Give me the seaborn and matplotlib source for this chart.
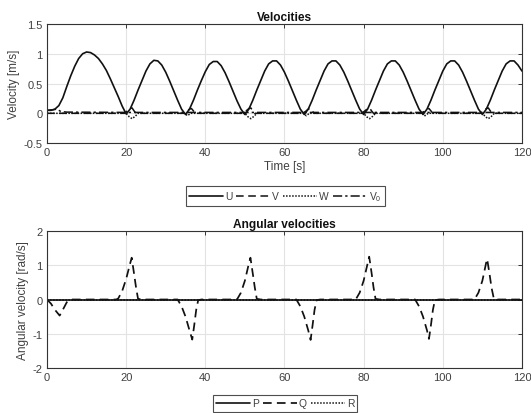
import matplotlib
matplotlib.use("Agg")
import matplotlib.pyplot as plt
import seaborn as sns
import pandas as pd

# ---------------- data ----------------
u_t = list(range(0, 121))
u_vals = [0.05, 0.05, 0.07, 0.13, 0.26, 0.45, 0.63, 0.79, 0.92, 1.00,
          1.03, 1.02, 0.98, 0.92, 0.83, 0.72, 0.58, 0.43, 0.28, 0.12,
          -0.01, 0.07, 0.22, 0.39, 0.55, 0.71, 0.83, 0.89, 0.88, 0.81,
          0.69, 0.54, 0.38, 0.22, 0.07, -0.02, 0.07, 0.22, 0.39, 0.55,
          0.70, 0.82, 0.87, 0.87, 0.80, 0.68, 0.53, 0.37, 0.21, 0.07,
          -0.02, 0.07, 0.22, 0.39, 0.55, 0.71, 0.83, 0.88, 0.88, 0.81,
          0.69, 0.54, 0.38, 0.22, 0.07, -0.02, 0.07, 0.22, 0.39, 0.55,
          0.71, 0.83, 0.88, 0.88, 0.81, 0.69, 0.54, 0.38, 0.22, 0.07,
          -0.02, 0.07, 0.22, 0.39, 0.55, 0.71, 0.83, 0.88, 0.88, 0.81,
          0.69, 0.54, 0.38, 0.22, 0.07, -0.02, 0.07, 0.22, 0.39, 0.55,
          0.71, 0.83, 0.88, 0.88, 0.81, 0.69, 0.54, 0.38, 0.22, 0.07,
          -0.02, 0.07, 0.22, 0.39, 0.55, 0.71, 0.83, 0.88, 0.88, 0.81,
          0.71]

v_t = [0, 19.5, 20.3, 21.0, 21.5, 22.0, 22.5,
       34.5, 35.3, 36.0, 36.5, 37.0, 37.5,
       49.5, 50.3, 51.0, 51.5, 52.0, 52.5,
       64.5, 65.3, 66.0, 66.5, 67.0, 67.5,
       79.5, 80.3, 81.0, 81.5, 82.0, 82.5,
       94.5, 95.3, 96.0, 96.5, 97.0, 97.5,
       109.5, 110.3, 111.0, 111.5, 112.0, 112.5, 120]
v_vals = [0.0, 0.0, 0.04, 0.08, 0.09, 0.04, 0.0,
          0.0, 0.03, 0.07, 0.08, 0.04, 0.0,
          0.0, 0.04, 0.08, 0.09, 0.04, 0.0,
          0.0, 0.03, 0.07, 0.08, 0.04, 0.0,
          0.0, 0.04, 0.08, 0.09, 0.04, 0.0,
          0.0, 0.03, 0.07, 0.08, 0.04, 0.0,
          0.0, 0.04, 0.08, 0.09, 0.04, 0.0, 0.0]

w_t = [0, 20, 20.8, 21.5, 22.3, 23,
       34.8, 35.5, 36.3,
       50, 50.8, 51.5, 52.3, 53,
       64.8, 65.5, 66.3,
       80, 80.8, 81.5, 82.3, 83,
       94.8, 95.5, 96.3,
       110, 110.8, 111.5, 112.3, 113, 120]
w_vals = [0.0, 0.0, -0.06, -0.09, -0.05, 0.0,
          0.0, -0.04, 0.0,
          0.0, -0.06, -0.09, -0.05, 0.0,
          0.0, -0.04, 0.0,
          0.0, -0.06, -0.09, -0.05, 0.0,
          0.0, -0.04, 0.0,
          0.0, -0.06, -0.09, -0.05, 0.0, 0.0]

v0_t = [0, 1.5, 2.5, 3.5, 5, 20, 40, 60, 80, 100, 120]
v0_vals = [0.05, 0.06, 0.07, 0.03, 0.02, 0.015, 0.015, 0.015, 0.015, 0.015, 0.015]

p_t = [0, 120]
p_vals = [0.0, 0.0]

q_t = [0, 1, 2, 3.2, 4, 5, 6,
       17.5, 18, 19, 20, 21, 21.4, 22, 22.5, 23, 24,
       33, 34, 35, 36, 36.7, 37.2, 37.7, 38.2, 39,
       48, 49, 50, 51, 51.4, 52, 52.5, 53, 54,
       63, 64, 65, 66, 66.6, 67.1, 67.6, 68.1, 69,
       78, 79, 80, 81, 81.4, 82, 82.5, 83, 84,
       93, 94, 95, 96, 96.5, 97, 97.5, 98, 99,
       108, 109, 110, 111, 111.2, 111.8, 112.3, 112.9, 114, 120]
q_vals = [0.0, -0.12, -0.3, -0.47, -0.3, -0.08, 0.0,
          0.0, 0.03, 0.25, 0.6, 1.05, 1.22, 0.75, 0.35, 0.02, 0.0,
          0.0, -0.2, -0.5, -0.9, -1.17, -0.75, -0.3, -0.02, 0.0,
          0.0, 0.2, 0.55, 1.05, 1.22, 0.75, 0.35, 0.02, 0.0,
          0.0, -0.2, -0.5, -0.9, -1.18, -0.75, -0.3, -0.02, 0.0,
          0.0, 0.2, 0.55, 1.05, 1.25, 0.78, 0.35, 0.02, 0.0,
          0.0, -0.2, -0.5, -0.9, -1.15, -0.75, -0.3, -0.02, 0.0,
          0.0, 0.2, 0.55, 1.1, 1.18, 0.75, 0.35, 0.02, 0.0, 0.0]

r_t = [0, 120]
r_vals = [0.0, 0.0]

x_ticks = [0, 20, 40, 60, 80, 100, 120]
y1_ticks = [-0.5, 0, 0.5, 1, 1.5]
y1_labels = ["-0.5", "0", "0.5", "1", "1.5"]
y2_ticks = [-2, -1, 0, 1, 2]
y2_labels = ["-2", "-1", "0", "1", "2"]

# ---------------- style ----------------
sns.set_style("white")
plt.rcParams["font.family"] = ["Liberation Sans", "DejaVu Sans"]
plt.rcParams["mathtext.fontset"] = "custom"
plt.rcParams["mathtext.rm"] = "Liberation Sans"
plt.rcParams["mathtext.it"] = "Liberation Sans:italic"

FS = 8.0
TXT = "#404040"
AXC = "#333333"
LC = "#111111"

fig = plt.figure(figsize=(5.31, 4.14), dpi=100)
ax1 = fig.add_axes([0.0885, 0.652, 0.8945, 0.2876])
ax2 = fig.add_axes([0.0885, 0.1087, 0.8945, 0.3309])

SOLID = "-"
DASH = (0, (5, 3))
DOT = (0, (1, 1))
DASHDOT = (0, (6, 2, 1.5, 2))


def line(ax, t, v, style, label, lw=1.1):
    df = pd.DataFrame({"t": t, "v": v})
    sns.lineplot(data=df, x="t", y="v", ax=ax, color=LC, linestyle=style,
                 linewidth=lw, label=label, estimator=None, sort=False)


line(ax1, u_t, u_vals, SOLID, "U", 1.2)
line(ax1, v_t, v_vals, DASH, "V")
line(ax1, w_t, w_vals, DOT, "W")
line(ax1, v0_t, v0_vals, DASHDOT, r"V$_\mathregular{0}$")

line(ax2, p_t, p_vals, SOLID, "P", 1.2)
line(ax2, q_t, q_vals, DASH, "Q", 1.25)
line(ax2, r_t, r_vals, DOT, "R")


def style_ax(ax, yt, yl, ylim, ylabel, title, xlabel=None):
    ax.set_xlim(0, 120)
    ax.set_ylim(*ylim)
    ax.set_xticks(x_ticks)
    ax.set_xticklabels([str(x) for x in x_ticks])
    ax.set_yticks(yt)
    ax.set_yticklabels(yl)
    ax.grid(True, color="#e3e3e3", linewidth=0.8)
    ax.set_axisbelow(True)
    for s in ax.spines.values():
        s.set_color(AXC)
        s.set_linewidth(0.8)
    ax.tick_params(direction="in", top=True, right=True, length=3,
                   width=0.7, color=AXC, labelsize=FS, labelcolor=TXT, pad=3)
    ax.set_ylabel(ylabel, fontsize=FS + 0.5, color=TXT, labelpad=3)
    if xlabel:
        ax.set_xlabel(xlabel, fontsize=FS + 0.5, color=TXT, labelpad=2)
    else:
        ax.set_xlabel("")
    ax.set_title(title, fontsize=FS + 0.6, fontweight="bold", color="#111111", pad=3)


style_ax(ax1, y1_ticks, y1_labels, (-0.5, 1.5), "Velocity [m/s]", "Velocities", "Time [s]")
style_ax(ax2, y2_ticks, y2_labels, (-2, 2), "Angular velocity [rad/s]", "Angular velocities")


def legend(ax, cx, cy):
    h, l = ax.get_legend_handles_labels()
    leg = ax.legend(h, l, loc="center", bbox_to_anchor=(cx, cy),
                    bbox_transform=fig.transFigure, ncol=len(l), fontsize=FS - 0.6,
                    frameon=True, fancybox=False, edgecolor="#222222",
                    handlelength=3.3, handletextpad=0.2, columnspacing=0.4,
                    borderpad=0.3, borderaxespad=0)
    leg.get_frame().set_linewidth(0.8)
    for t in leg.get_texts():
        t.set_color(TXT)


legend(ax1, 0.537, 0.524)
legend(ax2, 0.537, 0.023)

fig.savefig("out.png", dpi=100)
